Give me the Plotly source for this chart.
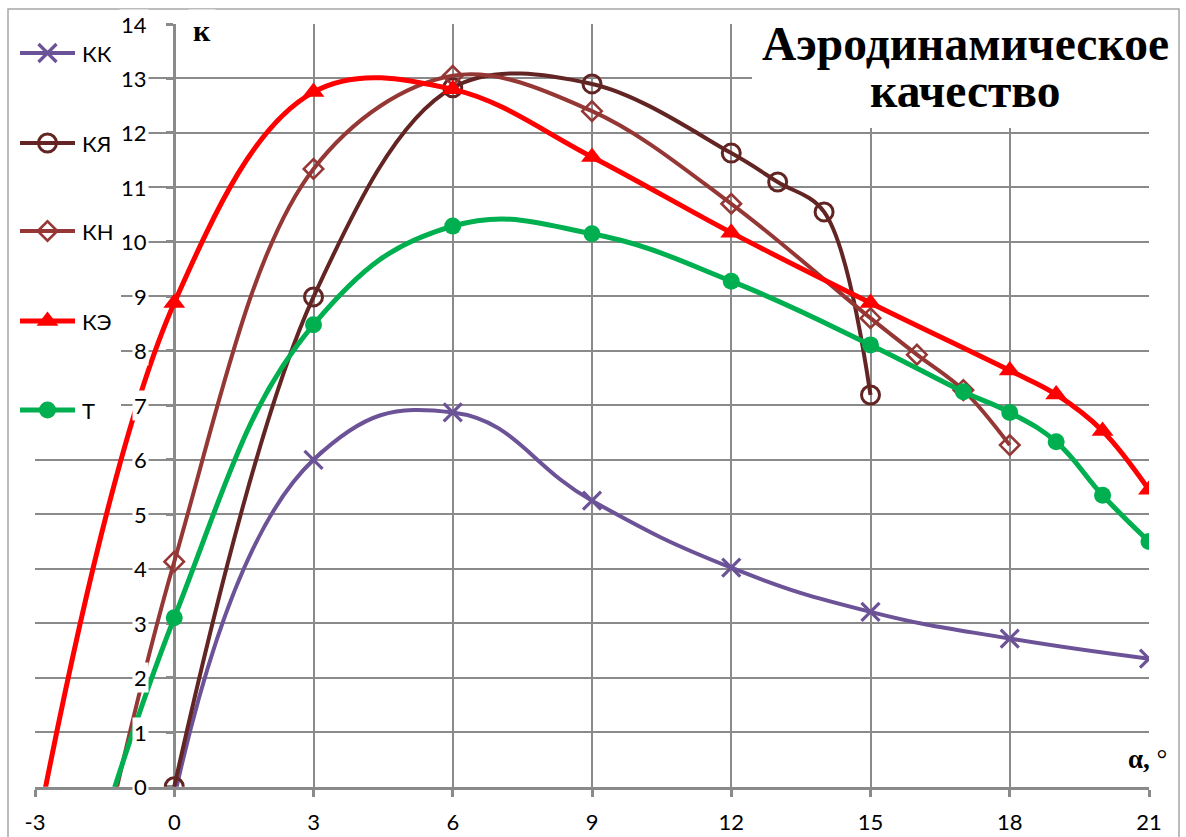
import plotly.graph_objects as go

# Angle of attack, degrees, and lift-to-drag ratio for each configuration
alpha_kk = [0, 3, 6, 9, 12, 15, 18, 21]
k_kk = [-0.2, 6.0, 6.87, 5.25, 4.02, 3.21, 2.72, 2.35]

alpha_kya = [0, 3, 6, 9, 12, 13, 14, 15]
k_kya = [0.0, 8.99, 12.83, 12.9, 11.63, 11.1, 10.55, 7.19]

alpha_kn = [-3, 0, 3, 6, 9, 12, 15, 16, 17, 18]
k_kn = [-7.0, 4.13, 11.34, 13.05, 12.4, 10.7, 8.6, 7.93, 7.28, 6.27]

alpha_ke = [-3, 0, 3, 6, 9, 12, 15, 18, 19, 20, 21]
k_ke = [-1.0, 8.88, 12.75, 12.8, 11.56, 10.17, 8.88, 7.64, 7.2, 6.53, 5.45]

alpha_t = [-3, 0, 3, 6, 9, 12, 15, 17, 18, 19, 20, 21]
k_t = [-5.0, 3.1, 8.48, 10.29, 10.15, 9.28, 8.11, 7.25, 6.87, 6.33, 5.35, 4.5]

series_names = ["КК", "КЯ", "КН", "КЭ", "Т"]
x_ticks = [-3, 0, 3, 6, 9, 12, 15, 18, 21]
y_ticks = list(range(0, 15))

W, H = 1186, 837
PX_L, PX_R = 35, 1149          # plot area, pixels
PX_T, PX_B = 24, 786.7

GRID = "#8a8a8a"
TXT_FONT = "Lato"
SERIF = "Liberation Serif"

styles = [
    dict(color="#6c5297", width=4, symbol="x-thin-open", size=18, mline=3.2, smooth=1.3),
    dict(color="#632523", width=4, symbol="circle-open", size=18, mline=3, smooth=1.0),
    dict(color="#953735", width=4, symbol="diamond-open", size=15, mline=2.6, smooth=1.0),
    dict(color="#ff0000", width=5, symbol="triangle-up", size=19, mline=0, smooth=1.05),
    dict(color="#00b050", width=5, symbol="circle", size=17, mline=0, smooth=1.2),
]
data = [(alpha_kk, k_kk), (alpha_kya, k_kya), (alpha_kn, k_kn),
        (alpha_ke, k_ke), (alpha_t, k_t)]

fig = go.Figure()

for name, (xs, ys), st in zip(series_names, data, styles):
    fig.add_trace(go.Scatter(
        x=xs, y=ys, name=name, mode="lines+markers",
        line=dict(color=st["color"], width=st["width"], shape="spline",
                  smoothing=st["smooth"]),
        marker=dict(symbol=st["symbol"], size=st["size"], color=st["color"],
                    line=dict(color=st["color"], width=st["mline"])),
        cliponaxis=True, showlegend=False, hoverinfo="skip",
        xaxis="x", yaxis="y",
    ))

# Hand-placed legend, drawn on a full-page pixel overlay
legend_y = [53, 143, 231, 321, 410]
for name, ly, st in zip(series_names, legend_y, styles):
    fig.add_trace(go.Scatter(
        x=[20, 75], y=[ly, ly], mode="lines",
        line=dict(color=st["color"], width=st["width"]),
        showlegend=False, hoverinfo="skip", xaxis="x2", yaxis="y2",
    ))
    fig.add_trace(go.Scatter(
        x=[47.5], y=[ly], mode="markers",
        marker=dict(symbol=st["symbol"], size=st["size"], color=st["color"],
                    line=dict(color=st["color"], width=st["mline"])),
        showlegend=False, hoverinfo="skip", xaxis="x2", yaxis="y2", cliponaxis=False,
    ))
    fig.add_annotation(xref="x2", yref="y2", x=80, y=ly, text=name,
                       xanchor="left", yanchor="middle", showarrow=False,
                       font=dict(family=TXT_FONT, size=22, color="black"))

# y tick labels sit left of the y axis line on white patches
for v in y_ticks:
    fig.add_annotation(xref="x", yref="y", x=-0.545, y=v, text=str(v),
                       xanchor="right", yanchor="middle", showarrow=False,
                       bgcolor="white", borderpad=1,
                       font=dict(family=TXT_FONT, size=22, color="black"))

# axis titles
fig.add_annotation(xref="x2", yref="y2", x=202, y=30, text="<b>к</b>",
                   xanchor="center", yanchor="middle", showarrow=False,
                   bgcolor="white", borderpad=4,
                   font=dict(family=SERIF, size=30, color="black"))
fig.add_annotation(xref="x2", yref="y2", x=1147, y=759, text="<b>α,</b> °",
                   xanchor="center", yanchor="middle", showarrow=False,
                   bgcolor="white", borderpad=6,
                   font=dict(family=SERIF, size=27, color="black"))

# chart title, two lines
fig.add_annotation(xref="x2", yref="y2", x=965, y=44, text="<b>Аэродинамическое</b>",
                   xanchor="center", yanchor="middle", showarrow=False,
                   font=dict(family=SERIF, size=47.5, color="black"))
fig.add_annotation(xref="x2", yref="y2", x=965, y=91, text="<b>качество</b>",
                   xanchor="center", yanchor="middle", showarrow=False,
                   font=dict(family=SERIF, size=47.5, color="black"))

def px_to_x(px):
    return -3 + (px - PX_L) / (PX_R - PX_L) * 24

def py_to_y(py):
    return (PX_B - py) / (PX_B - PX_T) * 14

# white areas behind the legend and the title, above the grid but under the curves
fig.add_shape(type="rect", xref="x", yref="y", layer="between",
              x0=-4, x1=px_to_x(121), y0=py_to_y(457), y1=15,
              fillcolor="white", line=dict(width=0))
fig.add_shape(type="rect", xref="x", yref="y", layer="between",
              x0=px_to_x(752), x1=22, y0=py_to_y(128), y1=15,
              fillcolor="white", line=dict(width=0))

# chart frame
fig.add_shape(type="rect", xref="paper", yref="paper",
              x0=8 / W, x1=1179 / W, y0=(H - 845) / H, y1=(H - 9) / H,
              line=dict(color="#a6a6a6", width=1.5), fillcolor="rgba(0,0,0,0)")

fig.update_layout(
    width=W, height=H, margin=dict(l=0, r=0, t=0, b=0, autoexpand=False),
    paper_bgcolor="white", plot_bgcolor="rgba(0,0,0,0)",
    showlegend=False,
    xaxis=dict(
        domain=[PX_L / W, PX_R / W], range=[-3, 21], tickmode="array",
        tickvals=x_ticks, ticktext=[str(v) for v in x_ticks],
        showgrid=True, gridcolor=GRID, gridwidth=1.6, zeroline=False,
        showline=True, linecolor=GRID, linewidth=3,
        ticks="outside", ticklen=7, tickwidth=2.5, tickcolor=GRID,
        tickfont=dict(family=TXT_FONT, size=22, color="black"),
        ticklabelstandoff=7, layer="below traces", anchor="y",
        automargin=False, fixedrange=True,
    ),
    yaxis=dict(
        domain=[(H - PX_B) / H, (H - PX_T) / H], range=[0, 14],
        tickmode="array", tickvals=y_ticks,
        showgrid=True, gridcolor=GRID, gridwidth=1.6, zeroline=False,
        showline=True, linecolor=GRID, linewidth=3,
        ticks="outside", ticklen=7, tickwidth=2.5, tickcolor=GRID,
        showticklabels=False, anchor="free",
        position=(PX_L + (PX_R - PX_L) * 3 / 24) / W,
        layer="below traces", automargin=False, fixedrange=True,
    ),
    xaxis2=dict(domain=[0, 1], range=[0, W], visible=False, anchor="y2",
                automargin=False, fixedrange=True),
    yaxis2=dict(domain=[0, 1], range=[H, 0], visible=False, anchor="x2",
                automargin=False, fixedrange=True),
)

fig.write_html("out.html", config={"displayModeBar": False})
